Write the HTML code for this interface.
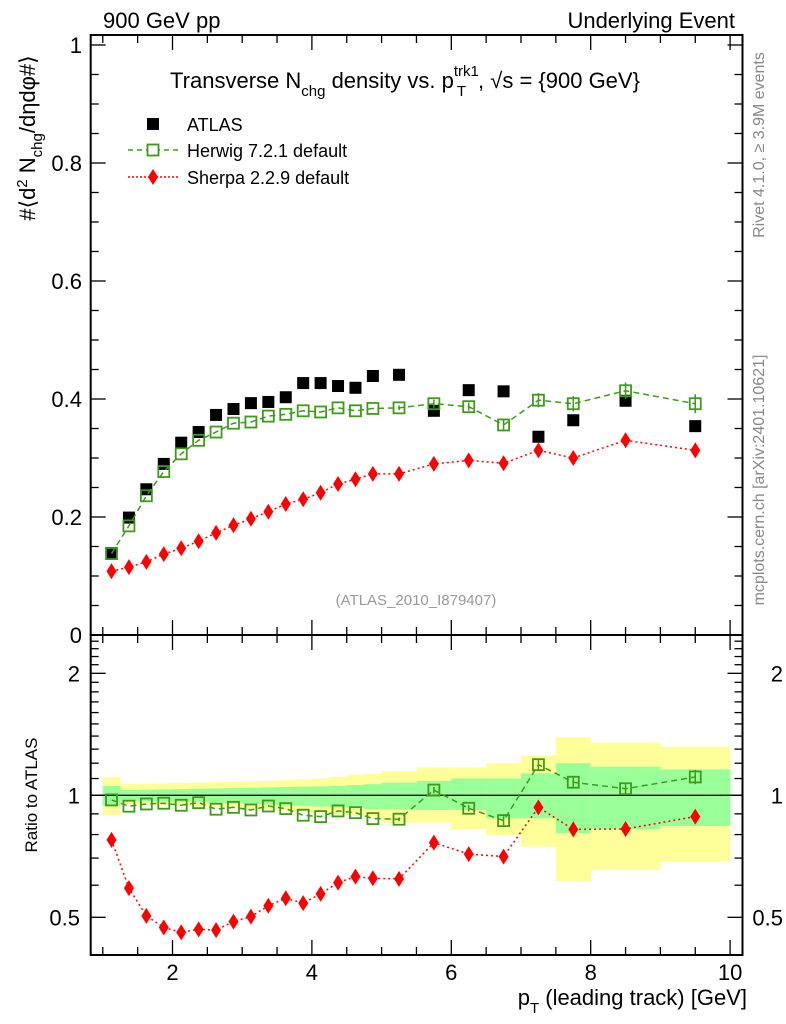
<!DOCTYPE html>
<html><head><meta charset="utf-8"><style>
body{margin:0;background:#fff;}
svg{display:block;font-family:"Liberation Sans",Arial,sans-serif;}
</style></head><body>
<svg id="c" width="786" height="1024" viewBox="0 0 786 1024" xmlns="http://www.w3.org/2000/svg"></svg>
<script>
const xCenters=[1.125,1.375,1.625,1.875,2.125,2.375,2.625,2.875,3.125,3.375,3.625,3.875,4.125,4.375,4.625,4.875,5.25,5.75,6.25,6.75,7.25,7.75,8.5,9.5];
const xLo=[1,1.25,1.5,1.75,2,2.25,2.5,2.75,3,3.25,3.5,3.75,4,4.25,4.5,4.75,5,5.5,6,6.5,7,7.5,8,9];
const xHi=[1.25,1.5,1.75,2,2.25,2.5,2.75,3,3.25,3.5,3.75,4,4.25,4.5,4.75,5,5.5,6,6.5,7,7.5,8,9,10];
const atlasVals=[0.139,0.199,0.247,0.290,0.326,0.344,0.373,0.383,0.393,0.395,0.403,0.427,0.427,0.422,0.419,0.439,0.441,0.380,0.415,0.413,0.336,0.364,0.397,0.354];
const herwigVals=[0.138,0.185,0.236,0.277,0.307,0.330,0.344,0.359,0.361,0.371,0.374,0.380,0.378,0.385,0.380,0.384,0.385,0.392,0.387,0.356,0.398,0.392,0.414,0.392];
const herwigErr=[0,0,0,0,0,0,0,0,0,0,0,0,0,0,0,0,0.004,0.007,0.007,0.009,0.012,0.013,0.014,0.016];
const sherpaVals=[0.108,0.115,0.124,0.137,0.147,0.159,0.173,0.186,0.197,0.209,0.222,0.230,0.241,0.256,0.264,0.273,0.273,0.290,0.296,0.291,0.313,0.300,0.330,0.313];
const sherpaErr=[0,0,0,0,0,0,0,0,0,0,0,0,0,0,0,0,0.003,0.005,0.006,0.007,0.009,0.010,0.010,0.012];
const herwigRatio=[0.974,0.940,0.952,0.956,0.945,0.959,0.924,0.934,0.920,0.941,0.927,0.893,0.886,0.915,0.906,0.876,0.873,1.030,0.929,0.866,1.190,1.077,1.038,1.110];
const sherpaRatio=[0.776,0.590,0.504,0.472,0.459,0.467,0.465,0.488,0.502,0.534,0.557,0.542,0.571,0.609,0.630,0.624,0.622,0.764,0.716,0.706,0.934,0.824,0.826,0.886];
const yellowHi=[1.108,1.066,1.068,1.070,1.072,1.075,1.078,1.080,1.083,1.086,1.090,1.095,1.100,1.110,1.125,1.130,1.146,1.172,1.172,1.200,1.255,1.390,1.350,1.318];
const yellowLo=[0.894,0.950,0.948,0.945,0.942,0.938,0.934,0.930,0.926,0.920,0.915,0.910,0.905,0.898,0.890,0.880,0.856,0.856,0.826,0.798,0.747,0.615,0.654,0.686];
const greenHi=[1.054,1.030,1.032,1.034,1.036,1.038,1.040,1.042,1.044,1.046,1.048,1.050,1.052,1.055,1.060,1.065,1.074,1.086,1.100,1.100,1.133,1.200,1.176,1.159];
const greenLo=[0.941,0.970,0.968,0.966,0.964,0.962,0.958,0.955,0.952,0.948,0.945,0.942,0.938,0.934,0.930,0.925,0.923,0.920,0.920,0.877,0.877,0.806,0.824,0.840];
const mainTicks=["0","0.2","0.4","0.6","0.8","1"];
const ratioTicks=["0.5","1","2"];
const xTicks=["2","4","6","8","10"];

const S=document.getElementById('c');
const NS='http://www.w3.org/2000/svg';
function mk(t,a,txt){const e=document.createElementNS(NS,t);for(const k in a)e.setAttribute(k,a[k]);if(txt!==undefined)e.textContent=txt;S.appendChild(e);return e;}
const L=90.7,R=742.5,MT=35,MB=635,RB=955;
const X=v=>172.5+(v-2)*69.7;
const Y=v=>635-v*590;
const YR=r=>795.3-122*Math.log2(r);
const GREEN='#3f9a1a',RED='#ff0000';

for(let i=0;i<xCenters.length;i++){
  let e=mk('rect',{x:X(xLo[i]),y:YR(yellowHi[i]),width:X(xHi[i])-X(xLo[i])+0.3,height:YR(yellowLo[i])-YR(yellowHi[i]),fill:'#ffff99'});
  
  
  e=mk('rect',{x:X(xLo[i]),y:YR(greenHi[i]),width:X(xHi[i])-X(xLo[i])+0.3,height:YR(greenLo[i])-YR(greenHi[i]),fill:'#99ff99'});
  
  
}
let ln=mk('line',{x1:L,x2:R,y1:YR(1),y2:YR(1),stroke:'#000','stroke-width':1.3});



let fr=mk('rect',{x:L,y:MT,width:R-L,height:MB-MT,fill:'none',stroke:'#000','stroke-width':2});

fr=mk('rect',{x:L,y:MB,width:R-L,height:RB-MB,fill:'none',stroke:'#000','stroke-width':2});


for(let v=1;v<=10.01;v+=0.5){
  const maj=Math.abs(v-Math.round(v/2)*2)<1e-6;const len=maj?15:8;const x=X(v);
  for(const [top,dir] of [[MT,1],[MB,-1],[MB,1],[RB,-1]]){
    const t=mk('line',{x1:x,x2:x,y1:top,y2:top+dir*len,stroke:'#000','stroke-width':1.3});
    
  }
}
xTicks.forEach(s=>{const t=mk('text',{x:X(+s),y:980,'font-size':22,'text-anchor':'middle'},s);
 });
for(let k=0;k<=20;k++){const v=k*0.05;const maj=k%4===0;const len=maj?15:8;const y=Y(v);
  if(y<MT)continue;
  let t=mk('line',{x1:L,x2:L+len,y1:y,y2:y,stroke:'#000','stroke-width':1.3});
  
  t=mk('line',{x1:R,x2:R-len,y1:y,y2:y,stroke:'#000','stroke-width':1.3});
  
}
mainTicks.forEach(s=>{const t=mk('text',{x:82,y:Y(+s)+8,'font-size':22,'text-anchor':'end'},s);
 });
for(let k=4;k<=25;k++){const r=k/10;const maj=(k===5||k===10||k===20);const len=maj?15:8;const y=YR(r);
  if(y<MB+1||y>RB-1)continue;
  let t=mk('line',{x1:L,x2:L+len,y1:y,y2:y,stroke:'#000','stroke-width':1.3});
  
  t=mk('line',{x1:R,x2:R-len,y1:y,y2:y,stroke:'#000','stroke-width':1.3});
  
}
ratioTicks.forEach(s=>{let t=mk('text',{x:80,y:YR(+s)+8,'font-size':22,'text-anchor':'end'},s);
 
 t=mk('text',{x:783,y:YR(+s)+8,'font-size':22,'text-anchor':'end'},s);
 });

function poly(vals,fy,color,dash,name){
  const p=mk('polyline',{points:vals.map((v,i)=>X(xCenters[i])+','+fy(v)).join(' '),fill:'none',stroke:color,'stroke-width':1.5,'stroke-dasharray':dash});
  
}
function sq(x,y,fill,stroke,name){const h=fill==='#000'?6:5.5;const e=mk('rect',{x:x-h,y:y-h,width:2*h,height:2*h,fill:fill,stroke:stroke,'stroke-width':fill==='#000'?0:1.8});
 }
function dia(x,y,name){const e=mk('polygon',{points:`${x},${y-8} ${x+5},${y} ${x},${y+8} ${x-5},${y}`,fill:RED});
 }
function ebar(x,y1,y2,color){const e=mk('line',{x1:x,x2:x,y1:y1,y2:y2,stroke:color,'stroke-width':1.5});
 }

atlasVals.forEach((v,i)=>sq(X(xCenters[i]),Y(v),'#000','none','atlas-point'));
poly(herwigVals,Y,GREEN,'6,4','herwig-line');
herwigVals.forEach((v,i)=>{const x=X(xCenters[i]);if(herwigErr[i]>0)ebar(x,Y(v+herwigErr[i]),Y(v-herwigErr[i]),GREEN);sq(x,Y(v),'none',GREEN,'herwig-point');});
poly(sherpaVals,Y,RED,'2,3','sherpa-line');
sherpaVals.forEach((v,i)=>{const x=X(xCenters[i]);if(sherpaErr[i]>0)ebar(x,Y(v+sherpaErr[i]),Y(v-sherpaErr[i]),RED);dia(x,Y(v),'sherpa-point');});
poly(herwigRatio,YR,GREEN,'6,4','herwig-ratio-line');
herwigRatio.forEach((v,i)=>{const x=X(xCenters[i]);const e=herwigErr[i]/herwigVals[i];if(e>0)ebar(x,YR(v*(1+e)),YR(v*(1-e)),GREEN);sq(x,YR(v),'none',GREEN,'herwig-ratio-point');});
poly(sherpaRatio,YR,RED,'2,3','sherpa-ratio-line');
sherpaRatio.forEach((v,i)=>dia(X(xCenters[i]),YR(v),'sherpa-ratio-point'));

function txt(a,s,name){const t=mk('text',a,s);return t;}
txt({x:103,y:28,'font-size':22},'900 GeV pp','top-left-label');
txt({x:735,y:28,'font-size':22,'text-anchor':'end'},'Underlying Event','top-right-label');
const title=txt({x:405,y:88,'font-size':22,'text-anchor':'middle'},'','plot-title');
title.innerHTML='Transverse N<tspan font-size="15" dy="8">chg</tspan><tspan dy="-8"> density vs. p</tspan><tspan font-size="15" dy="-12">trk1</tspan><tspan font-size="15" dx="-22" dy="20">T</tspan><tspan dx="12" dy="-8">, √s = {900 GeV}</tspan>';
sq(153,124,'#000','none','legend-atlas-marker');
txt({x:187,y:131,'font-size':18},'ATLAS','legend-atlas');
let l=mk('line',{x1:128,x2:178,y1:150,y2:150,stroke:GREEN,'stroke-width':1.5,'stroke-dasharray':'5,4'});

sq(153,150,'#fff',GREEN,'legend-herwig-marker');
txt({x:187,y:157,'font-size':18},'Herwig 7.2.1 default','legend-herwig');
l=mk('line',{x1:128,x2:178,y1:177,y2:177,stroke:RED,'stroke-width':1.5,'stroke-dasharray':'2,2'});

dia(153,177,'legend-sherpa-marker');
txt({x:187,y:184,'font-size':18},'Sherpa 2.2.9 default','legend-sherpa');
txt({x:416,y:605,'font-size':15,'text-anchor':'middle',fill:'#999'},'(ATLAS_2010_I879407)','analysis-id');
const yt=txt({x:0,y:0,'font-size':22,'text-anchor':'middle',transform:'translate(35,138) rotate(-90)'},'','y-axis-title');
yt.innerHTML='#⟨d<tspan font-size="15" dy="-8">2</tspan><tspan dy="8"> N</tspan><tspan font-size="15" dy="7">chg</tspan><tspan dy="-7">/dηdφ#⟩</tspan>';
txt({x:0,y:0,'font-size':17,'text-anchor':'middle',transform:'translate(37,795) rotate(-90)'},'Ratio to ATLAS','ratio-axis-title');
const xt=txt({x:747,y:1005,'font-size':22,'text-anchor':'end'},'','x-axis-title');
xt.innerHTML='p<tspan font-size="15" dy="8">T</tspan><tspan dy="-8"> (leading track) [GeV]</tspan>';
txt({x:0,y:0,'font-size':16,'text-anchor':'middle',fill:'#888',transform:'translate(764,145) rotate(-90)'},'Rivet 4.1.0, ≥ 3.9M events','rivet-version-label');
txt({x:0,y:0,'font-size':16,'text-anchor':'middle',fill:'#888',transform:'translate(764,480) rotate(-90)'},'mcplots.cern.ch [arXiv:2401.10621]','mcplots-label');
</script>
</body></html>
